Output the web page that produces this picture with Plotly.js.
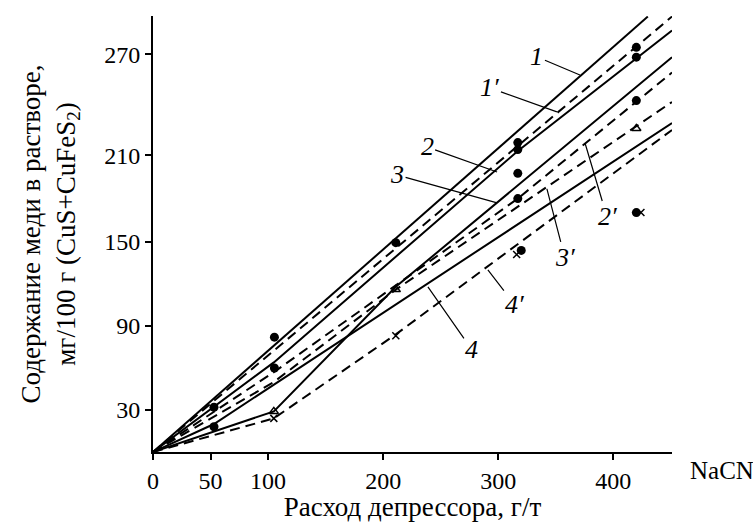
<!DOCTYPE html>
<html><head><meta charset="utf-8">
<script src="https://cdn.plot.ly/plotly-3.0.1.min.js"></script>
<style>html,body{margin:0;padding:0;background:#fff}</style>
</head><body><div id="chart" style="width:753px;height:522px"></div>
<script>
// ---- data (NaCN consumption, g/t  ->  Cu in solution, mg/100 g) ----
const line1X  = [0, 430];            const line1Y  = [0, 311];
const line1pX = [0, 451];            const line1pY = [0, 311];
const line2X  = [0, 105, 317, 451];  const line2Y  = [0, 64, 215, 301];
const line2pX = [0, 105, 317, 451];  const line2pY = [0, 57, 181, 271];
const line3X  = [0, 105, 211, 451];  const line3Y  = [0, 29, 118, 282];
const line3pX = [0, 105, 211, 451];  const line3pY = [0, 50, 116, 250];
const line4X  = [0, 53, 451];        const line4Y  = [0, 20, 235];
const line4pX = [0, 105, 211, 451];  const line4pY = [0, 24, 84, 230];

const dotX = [53, 53, 105.5, 105.5, 211, 317, 317, 317, 317, 320, 420, 420, 420, 420];
const dotY = [32, 18, 82, 60, 149.5, 221, 216, 199, 181, 144, 289, 282, 251, 171];
const triX = [105, 211, 420];
const triY = [29, 116, 231];
const crossX = [105, 211, 316, 424];
const crossY = [24, 83, 141, 171];

const xTickVals = [0, 50, 100, 200, 300, 400];
const xTickText = ['0', '50', '100', '200', '300', '400'];
const yTickVals = [30, 90, 150, 212, 284];
const yTickText = ['30', '90', '150', '210', '270'];

const curveNames = ['1', '1′', '2', '2′', '3', '3′', '4', '4′'];
// point on curve each label points to
const labelPtX = [371, 351, 299, 375.4, 299, 342.3, 238.9, 291];
const labelPtY = [269.3, 242.9, 200, 220.7, 177.9, 187.9, 117.9, 130];
// ---- end data ----

const labelOffset = [[-43,-18],[-67,-24],[-70,-25],[22,74],[-100,-28],[18,69],[44,63],[27,35]];

const FONT = 'Liberation Serif, Times New Roman, serif';
const solid = {color: '#000', width: 2};
const dashed = {color: '#000', width: 2, dash: '10px,6px'};

function ln(x, y, style, name) {
  return {x: x, y: y, mode: 'lines', line: style, name: name, hoverinfo: 'skip', showlegend: false};
}

const traces = [
  ln(line1X, line1Y, solid, '1'),
  ln(line1pX, line1pY, dashed, '1′'),
  ln(line2X, line2Y, solid, '2'),
  ln(line2pX, line2pY, dashed, '2′'),
  ln(line3X, line3Y, solid, '3'),
  ln(line3pX, line3pY, dashed, '3′'),
  ln(line4X, line4Y, solid, '4'),
  ln(line4pX, line4pY, dashed, '4′'),
  {x: dotX, y: dotY, mode: 'markers', marker: {symbol: 'circle', size: 9, color: '#000'}, showlegend: false},
  {x: triX, y: triY, mode: 'markers', marker: {symbol: 'triangle-up-open', size: 8, color: '#000', line: {width: 1.5, color: '#000'}}, showlegend: false},
  {x: crossX, y: crossY, mode: 'markers', marker: {symbol: 'x-thin-open', size: 7, color: '#000', line: {width: 1.5, color: '#000'}}, showlegend: false}
];

const annotations = curveNames.map((t, i) => ({
  x: labelPtX[i], y: labelPtY[i], xref: 'x', yref: 'y',
  text: '<i>' + t + '</i>', showarrow: true, arrowhead: 0, arrowwidth: 1.2,
  arrowcolor: '#000', ax: labelOffset[i][0], ay: labelOffset[i][1], standoff: 0,
  font: {family: FONT, size: 26, color: '#000'}
}));
annotations.push({
  xref: 'paper', yref: 'paper', x: 1.03, y: -0.043, xanchor: 'left', yanchor: 'middle',
  text: 'NaCN', showarrow: false, font: {family: FONT, size: 25, color: '#000'}
});

const layout = {
  width: 753, height: 522,
  margin: {l: 153, r: 81, t: 16, b: 70},
  paper_bgcolor: '#fff', plot_bgcolor: '#fff',
  font: {family: FONT, color: '#000', size: 24},
  showlegend: false,
  xaxis: {
    range: [0, 451], tickvals: xTickVals, ticktext: xTickText,
    showgrid: false, zeroline: false, showline: true, linecolor: '#000', linewidth: 2,
    ticks: 'outside', ticklen: 6, tickwidth: 2, tickcolor: '#000',
    tickfont: {family: FONT, size: 24, color: '#000'},
    title: {text: 'Расход депрессора, г/т', font: {family: FONT, size: 27, color: '#000'}, standoff: 4}
  },
  yaxis: {
    range: [0, 311.4], tickvals: yTickVals, ticktext: yTickText,
    showgrid: false, zeroline: false, showline: true, linecolor: '#000', linewidth: 2,
    ticks: 'outside', ticklen: 6, tickwidth: 2, tickcolor: '#000',
    tickfont: {family: FONT, size: 24, color: '#000'},
    title: {text: 'Содержание меди в растворе,<br>мг/100 г (CuS+CuFeS<sub>2</sub>)', font: {family: FONT, size: 27, color: '#000'}, standoff: 21}
  },
  annotations: annotations
};

Plotly.newPlot('chart', traces, layout, {displayModeBar: false, staticPlot: true});
</script></body></html>
